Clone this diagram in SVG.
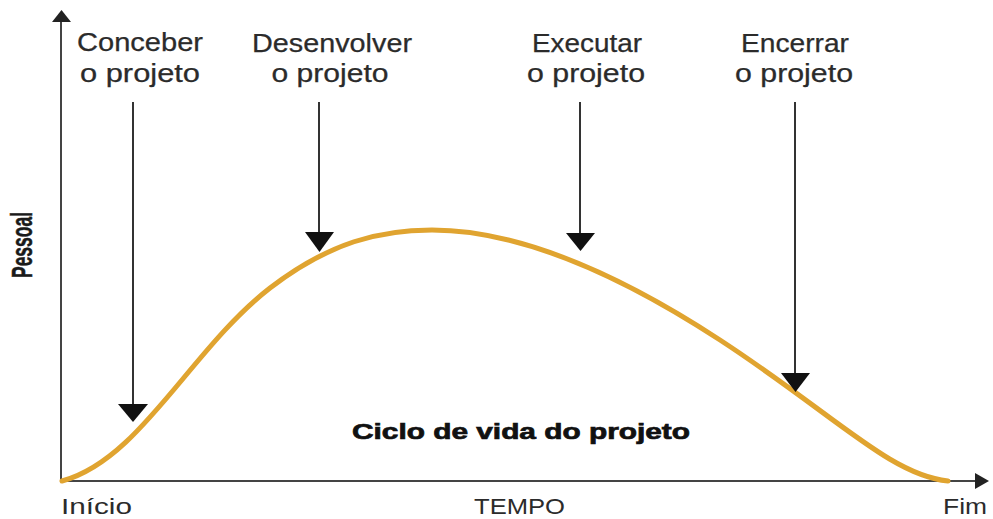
<svg xmlns="http://www.w3.org/2000/svg" width="993" height="519" viewBox="0 0 993 519">
<style>
.lbl{font-family:"Liberation Sans",Arial,sans-serif;font-size:25px;fill:#2b2b2b;text-anchor:middle;stroke:#2b2b2b;stroke-width:0.25}
.ax{font-family:"Liberation Sans",Arial,sans-serif;font-size:22px;fill:#2b2b2b}
.ptr{stroke:#333;stroke-width:2;fill:none}
.head{fill:#111}
.axis{stroke:#444;stroke-width:2;fill:none}
</style>
<rect width="993" height="519" fill="#fff"/>
<g id="axes">
<line class="axis" x1="61" y1="20" x2="61" y2="481"/>
<polygon fill="#222" points="52,22 71,22 61.5,10"/>
<line class="axis" x1="61" y1="481" x2="977" y2="481"/>
<polygon fill="#222" points="975,473 975,489 989,481"/>
<text transform="translate(32,245) rotate(-90)" font-family="'Liberation Sans',Arial,sans-serif" font-size="29" font-weight="bold" fill="#1a1a1a" stroke="#1a1a1a" stroke-width="0.5" text-anchor="middle" textLength="66" lengthAdjust="spacingAndGlyphs">Pessoal</text>
<text class="ax" x="61" y="514" textLength="71" lengthAdjust="spacingAndGlyphs">Início</text>
<text class="ax" x="474" y="514" textLength="91" lengthAdjust="spacingAndGlyphs">TEMPO</text>
<text class="ax" x="943" y="514" textLength="44" lengthAdjust="spacingAndGlyphs">Fim</text>
</g>
<g id="curve">
<path d="M62,481 C140,460 190,350 270,288 C330,242 380,230 432,230 C510,230 605,265 720,340 S890,475 948,481" fill="none" stroke="#E0A430" stroke-width="5" stroke-linecap="round"/>
<text x="352" y="439" font-family="'Liberation Sans',Arial,sans-serif" font-size="22" font-weight="bold" fill="#111" stroke="#111" stroke-width="0.7" textLength="338" lengthAdjust="spacingAndGlyphs">Ciclo de vida do projeto</text>
</g>
<g id="conceber">
<text class="lbl" x="140" y="51" textLength="126" lengthAdjust="spacingAndGlyphs">Conceber</text>
<text class="lbl" x="140" y="82" textLength="120" lengthAdjust="spacingAndGlyphs">o projeto</text>
</g>
<g id="desenvolver">
<text class="lbl" x="332" y="52" textLength="160" lengthAdjust="spacingAndGlyphs">Desenvolver</text>
<text class="lbl" x="330" y="82" textLength="117" lengthAdjust="spacingAndGlyphs">o projeto</text>
</g>
<g id="executar">
<text class="lbl" x="587" y="52" textLength="110" lengthAdjust="spacingAndGlyphs">Executar</text>
<text class="lbl" x="586" y="82" textLength="118" lengthAdjust="spacingAndGlyphs">o projeto</text>
</g>
<g id="encerrar">
<text class="lbl" x="795" y="52" textLength="108" lengthAdjust="spacingAndGlyphs">Encerrar</text>
<text class="lbl" x="794" y="82" textLength="118" lengthAdjust="spacingAndGlyphs">o projeto</text>
</g>
<g id="connectors">
<line class="ptr" x1="133" y1="102" x2="133" y2="406"/>
<polygon class="head" points="118,404 148,404 133,422"/>
<line class="ptr" x1="319" y1="102" x2="319" y2="234"/>
<polygon class="head" points="305,232 334,232 319.5,252"/>
<line class="ptr" x1="580" y1="102" x2="580" y2="235"/>
<polygon class="head" points="566,233 595,233 580.5,251"/>
<line class="ptr" x1="795" y1="102" x2="795" y2="375"/>
<polygon class="head" points="781,373 810,373 795.5,392"/>
</g>
</svg>
